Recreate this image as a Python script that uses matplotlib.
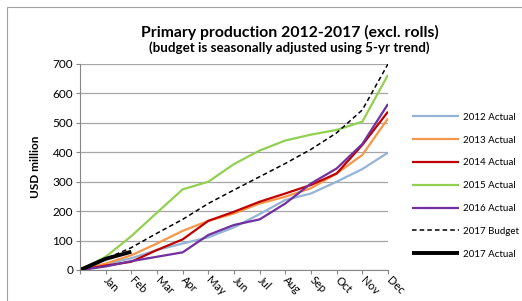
import matplotlib.pyplot as plt
import matplotlib.patches as mpatches
import matplotlib.transforms as mtransforms

months = ["", "Jan", "Feb", "Mar", "Apr", "May", "Jun", "Jul", "Aug", "Sep", "Oct", "Nov", "Dec"]

actual_2012 = [0, 20, 40, 68, 90, 111, 145, 190, 238, 260, 300, 343, 399]
actual_2013 = [0, 22, 50, 90, 133, 167, 192, 226, 249, 278, 328, 391, 515]
actual_2014 = [0, 15, 28, 68, 104, 167, 198, 232, 260, 289, 328, 425, 538]
actual_2015 = [0, 45, 115, 195, 274, 300, 360, 406, 440, 460, 476, 504, 663]
actual_2016 = [0, 12, 30, 45, 60, 119, 153, 172, 226, 294, 345, 428, 564]
budget_2017 = [0, 38, 76, 125, 172, 226, 272, 317, 362, 410, 466, 544, 700]
actual_2017 = [0, 38, 62]

series = [
    ("2012 Actual", actual_2012, "#95B3D7", "-", 1.6),
    ("2013 Actual", actual_2013, "#F79646", "-", 1.6),
    ("2014 Actual", actual_2014, "#C00000", "-", 1.6),
    ("2015 Actual", actual_2015, "#92D050", "-", 1.6),
    ("2016 Actual", actual_2016, "#7030A0", "-", 1.6),
    ("2017 Budget", budget_2017, "black", (0, (3, 2)), 1.1),
    ("2017 Actual", actual_2017, "black", "-", 2.8),
]

plt.rcParams["font.family"] = ["Lato", "DejaVu Sans"]

fig = plt.figure(figsize=(5.22, 3.01), dpi=100)
W, H = 522, 301
ax = fig.add_axes([80 / W, 1 - 270 / H, 308 / W, 206 / H])

# outer chart border
fig.patches.append(mpatches.Rectangle((7 / W, -0.05), 1.2, 1 - 7 / H + 0.05,
                                      transform=fig.transFigure, fill=False,
                                      edgecolor="#A0A0A0", lw=0.8))

x = list(range(len(months)))
handles = []
for label, vals, color, ls, lw in series:
    h, = ax.plot(x[:len(vals)], vals, color=color, linestyle=ls, linewidth=lw,
                 label=label, solid_capstyle="butt")
    handles.append(h)

ax.set_xlim(0, 12)
ax.set_ylim(0, 700)
ax.set_yticks(range(0, 701, 100))
ax.set_xticks(x)
ax.set_xticklabels(months, rotation=-45, ha="left", va="center",
                   rotation_mode="anchor", fontsize=8)
shift = mtransforms.ScaledTranslation(-4 / 100, 0, fig.dpi_scale_trans)
for lbl in ax.get_xticklabels():
    lbl.set_transform(lbl.get_transform() + shift)
ax.tick_params(axis="x", length=3, color="#868686", pad=3)
ax.tick_params(axis="y", length=3, color="#868686", labelsize=8.5, pad=2)
ax.yaxis.grid(True, color="#A6A6A6", linewidth=0.9)
ax.set_axisbelow(True)
for s in ["top", "right"]:
    ax.spines[s].set_visible(False)
ax.spines["left"].set_color("#868686")
ax.spines["bottom"].set_color("#868686")
ax.set_ylabel("USD million", fontsize=8.5, fontweight="bold", labelpad=8)

fig.text(290 / W, 1 - 32 / H, "Primary production 2012-2017 (excl. rolls)",
         ha="center", va="center", fontsize=11.3, fontweight="bold")
fig.text(289 / W, 1 - 48 / H, "(budget is seasonally adjusted using 5-yr trend)",
         ha="center", va="center", fontsize=9.6, fontweight="bold")

fig.legend(handles=handles, loc="upper left", bbox_to_anchor=(403 / W, 1 - 104 / H),
           frameon=False, fontsize=7, handlelength=4.9, labelspacing=1.42,
           handletextpad=0.4)

fig.savefig("out.png", dpi=100)
